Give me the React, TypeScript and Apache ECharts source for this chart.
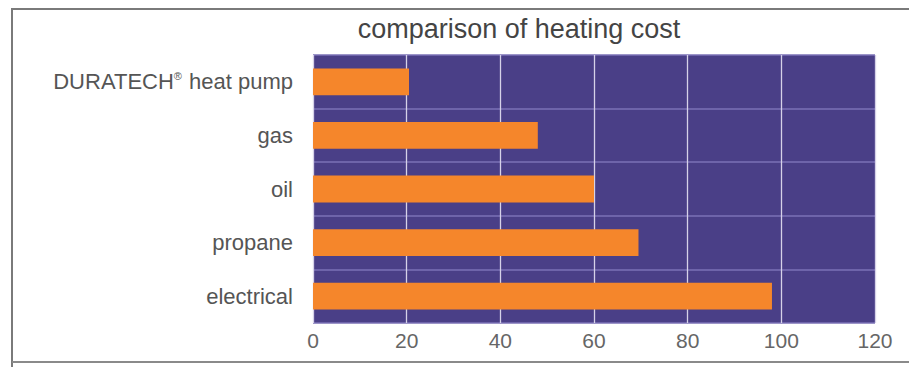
import React, { useEffect, useRef } from "react";
import * as echarts from "echarts";

const categories = ["DURATECH® heat pump", "gas", "oil", "propane", "electrical"];
const costs = [20.5, 48, 60, 69.5, 98];
const xTicks = [0, 20, 40, 60, 80, 100, 120];

export default function App() {
  const ref = useRef<HTMLDivElement>(null);
  useEffect(() => {
    document.body.style.margin = "0";
    const chart = echarts.init(ref.current!, undefined, { renderer: "svg" });
    chart.setOption({
      animation: false,
      backgroundColor: "#ffffff",
      title: {
        text: "comparison of heating cost",
        left: 514,
        top: 10,
        textAlign: "center",
        textStyle: { fontFamily: "Liberation Sans", fontSize: 27, fontWeight: "normal", color: "#444" },
      },
      graphic: [
        { type: "line", shape: { x1: 12, y1: 9, x2: 12, y2: 367 }, style: { stroke: "#7a7a7a", lineWidth: 2 } },
        { type: "line", shape: { x1: 11, y1: 9, x2: 909, y2: 9 }, style: { stroke: "#7a7a7a", lineWidth: 2 } },
        { type: "line", shape: { x1: 12, y1: 362, x2: 909, y2: 362 }, style: { stroke: "#8a8a8a", lineWidth: 2 } },
      ],
      grid: {
        left: 313,
        right: 34,
        top: 55,
        bottom: 44,
        show: true,
        backgroundColor: "#4a3f87",
        borderWidth: 0,
      },
      xAxis: {
        type: "value",
        min: xTicks[0],
        max: xTicks[xTicks.length - 1],
        interval: 20,
        axisLine: { show: false },
        axisTick: { show: false },
        axisLabel: { fontFamily: "Liberation Sans", fontSize: 21, color: "#666", margin: 7 },
        splitLine: { show: true, lineStyle: { color: "#d6d2e8", width: 1.3 } },
      },
      yAxis: {
        type: "category",
        inverse: true,
        data: categories,
        axisLine: { show: false },
        axisTick: { show: false },
        axisLabel: {
          margin: 20,
          fontFamily: "Liberation Sans",
          fontSize: 22,
          color: "#555",
          formatter: (v: string) => {
            if (v.indexOf("®") >= 0) {
              const [a, b] = v.split("®");
              return `{t|${a}}{s|®}{t|${b}}`;
            }
            return `{t|${v}}`;
          },
          rich: {
            t: { fontFamily: "Liberation Sans", fontSize: 22, color: "#555" },
            s: { fontFamily: "Liberation Sans", fontSize: 11, color: "#555", verticalAlign: "top", padding: [0, 1, 10, 0] },
          },
        },
        splitLine: { show: true, interval: 0, lineStyle: { color: "#7b72b6", width: 1.5 } },
      },
      series: [
        {
          type: "bar",
          data: costs,
          barWidth: "50%",
          itemStyle: { color: "#f5862b" },
        },
      ],
    });
    return () => chart.dispose();
  }, []);
  return <div ref={ref} style={{ width: 909, height: 367 }} />;
}
